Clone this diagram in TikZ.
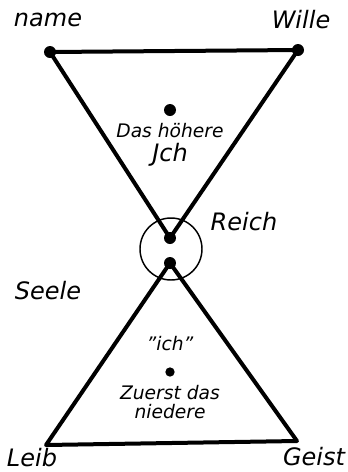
\documentclass[tikz,border=0pt]{standalone}
\usepackage{fontspec}
\setmainfont{DejaVu Sans}
\begin{document}
\begin{tikzpicture}[x=0.75pt,y=-0.75pt,
  edge/.style={line width=3pt,line join=round,line cap=round},
  dot/.style={circle,fill=black,inner sep=0pt,minimum size=9pt},
  lbl/.style={font=\fontsize{18}{20}\selectfont\itshape,inner sep=0pt},
  sml/.style={font=\fontsize{14}{14}\selectfont\itshape,inner sep=0pt,align=center}]
\useasboundingbox (0,0) rectangle (347,472);
% corners
\node[dot] (name) at (50,52) {};
\node[dot] (wille) at (298,50) {};
\node[dot] (top) at (170,238) {};
\node[dot] (bot) at (170,263) {};
\coordinate (leib) at (46,445);
\coordinate (geist) at (297,441);
\node[dot] (hi) at (170,110) {};
\node[dot,minimum size=7pt] (lo) at (170,372) {};
% triangles
\draw[edge] (name.center) -- (wille.center) -- (top.center) -- cycle;
\draw[edge] (bot.center) -- (geist) -- (leib) -- cycle;
\node[draw,circle,line width=1.1pt,minimum size=46.5pt,inner sep=0pt] (reichc) at (171,249) {};
% labels
\node[lbl] (tname) at (48,20) {name};
\node[lbl] (twille) at (301,20) {Wille};
\node[sml] (thoh) at (170,131) {Das höhere};
\node[lbl] (tjch) at (170,155) {Jch};
\node[lbl] (treich) at (244,222) {Reich};
\node[lbl] (tseele) at (48,291) {Seele};
\node[sml] (tich) at (170,344) {"ich"};
\node[sml] (tzu) at (170,402) {Zuerst das\\niedere};
\node[lbl] (tleib) at (32,458) {Leib};
\node[lbl] (tgeist) at (314,457) {Geist};
\end{tikzpicture}
\end{document}
